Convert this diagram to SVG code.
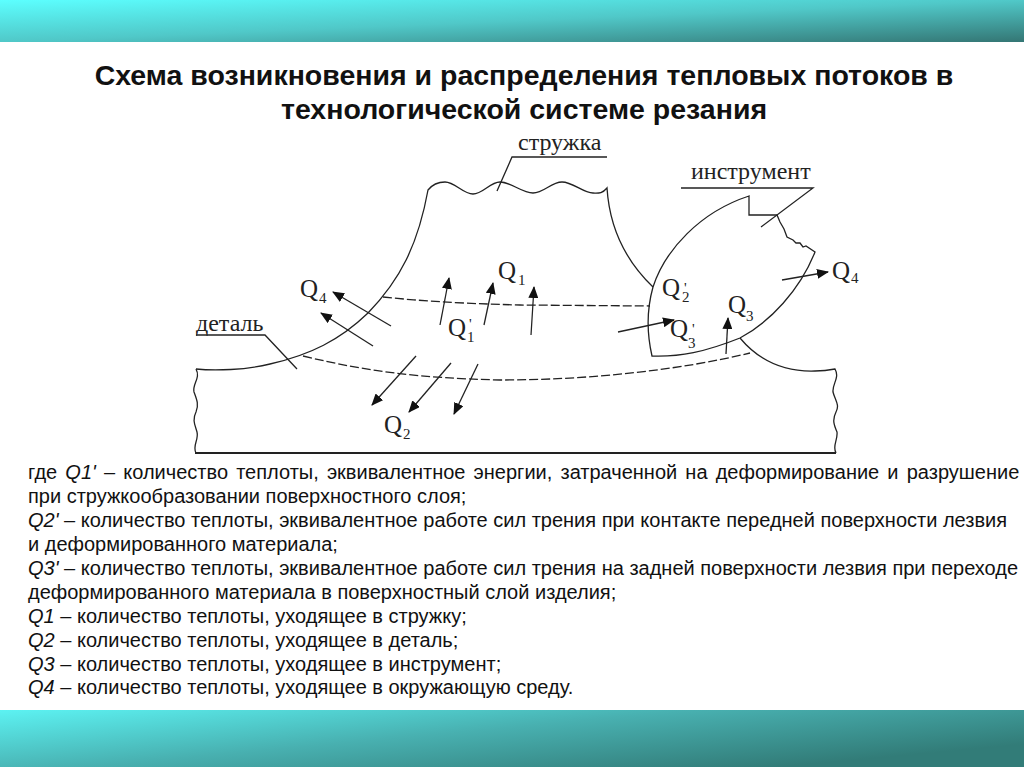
<svg xmlns="http://www.w3.org/2000/svg" width="1024" height="767" viewBox="0 0 1024 767">
<style>
.t{font-family:"Liberation Sans",Arial,sans-serif;font-size:28.5px;font-weight:bold;fill:#111;text-anchor:middle}
.b{font-family:"Liberation Sans",Arial,sans-serif;font-size:20px;fill:#111}
.b tspan.i{font-style:italic}
.l{font-family:"Liberation Serif","Times New Roman",serif;font-size:24px;fill:#222}
.q{font-family:"Liberation Serif","Times New Roman",serif;font-size:25px;fill:#222}
.s{font-family:"Liberation Serif","Times New Roman",serif;font-size:15px;fill:#222}
.o{fill:none;stroke:#222;stroke-width:1.3}
.d{fill:none;stroke:#222;stroke-width:1.3;stroke-dasharray:9 3}
.a{fill:none;stroke:#222;stroke-width:1.3;marker-end:url(#h)}
</style>
<defs>
<linearGradient id="g1" x1="0" y1="0" x2="1" y2="1"><stop offset="0" stop-color="#5cffff"/><stop offset="0.5" stop-color="#50c8c8"/><stop offset="1" stop-color="#347674"/></linearGradient>
<linearGradient id="g2" x1="0" y1="0" x2="1" y2="0.6"><stop offset="0" stop-color="#5cf2f2"/><stop offset="0.5" stop-color="#48b0b0"/><stop offset="1" stop-color="#327c78"/></linearGradient>
<marker id="h" viewBox="0 0 12 10" refX="11" refY="5" markerWidth="12" markerHeight="10" markerUnits="userSpaceOnUse" orient="auto"><path d="M0 0L12 5L0 10Z" fill="#111"/></marker>
</defs>
<rect width="1024" height="767" fill="#fff"/>
<rect id="band-top" width="1024" height="42" fill="url(#g1)"/>
<rect id="band-bottom" y="710" width="1024" height="57" fill="url(#g2)"/>
<g id="title">
<text class="t" x="524" y="85">Схема возникновения и распределения тепловых потоков в</text>
<text class="t" x="524" y="119">технологической системе резания</text>
</g>
<g id="chip">
<path class="o" d="M653 287C630 265 610 235 607 188C602 194 598 193 593 193C583 193 573 182 562 182C551 182 544 193 533 193C522 193 511 182 500 182C490 182 483 194 473 194C463 194 455 182 445 182C438 182 432 185 428 190C418 245 400 280 368 313C340 340 310 355 270 364C245 370 215 371 196 369"/>
</g>
<g id="workpiece">
<path class="o" d="M196 369C201 378 192 384 194 392C197 400 199 405 196 412C192 420 195 425 197 432C199 440 192 446 196 453"/>
<path class="o" d="M740 338C760 362 785 372 815 371C822 371 830 370 835 369C840 378 832 384 833 392C835 400 840 405 836 412C832 420 834 425 837 432C838 440 832 446 836 453"/>
<path d="M195 453H836" fill="none" stroke="#222" stroke-width="2"/>
</g>
<g id="tool">
<path class="o" d="M749 196C700 212 665 250 653 287C648 305 646 330 652 356C680 357 705 352 740 338C770 322 800 290 815 252L806 246L803 247L800 243L796 243L793 240L787 237L784 229L780 222L777 215H749Z"/>
</g>
<g id="connectors">
<path class="d" d="M383 297C430 302 480 304 520 305L650 306"/>
<path class="d" d="M303 356C370 372 420 378 500 380C590 380 680 370 750 353"/>
<path class="o" d="M196 335H265L297 369"/>
<path class="o" d="M607 157H512L497 191"/>
<path class="o" d="M681 188H813L761 227"/>
<path class="a" d="M391 326L333 292"/>
<path class="a" d="M373 346L321 313"/>
<path class="a" d="M440 325L449 278"/>
<path class="a" d="M484 325L493 283"/>
<path class="a" d="M531 335L534 287"/>
<path class="a" d="M416 356L372 405"/>
<path class="a" d="M451 363L409 412"/>
<path class="a" d="M478 364L454 414"/>
<path class="a" d="M618 332L674 320"/>
<path class="a" d="M782 280L828 272"/>
<path class="a" d="M726 354L728 318"/>
</g>
<g id="labels">
<text class="l" x="518" y="150">стружка</text>
<text class="l" x="691" y="179">инструмент</text>
<text class="l" x="196" y="331">деталь</text>
<text class="q" x="300" y="297">Q</text><text class="s" x="319" y="303">4</text>
<text class="q" x="498" y="279">Q</text><text class="s" x="518" y="285">1</text>
<text class="q" x="448" y="336">Q</text><text class="s" x="469" y="329">'</text><text class="s" x="467" y="342">1</text>
<text class="q" x="384" y="433">Q</text><text class="s" x="403" y="439">2</text>
<text class="q" x="662" y="296">Q</text><text class="s" x="684" y="293">'</text><text class="s" x="682" y="302">2</text>
<text class="q" x="670" y="337">Q</text><text class="s" x="692" y="334">'</text><text class="s" x="688" y="348">3</text>
<text class="q" x="728" y="313">Q</text><text class="s" x="746" y="321">3</text>
<text class="q" x="832" y="279">Q</text><text class="s" x="851" y="283">4</text>
</g>
<g id="legend">
<text class="b" x="28" y="479" word-spacing="2.6">где <tspan class="i">Q1'</tspan> – количество теплоты, эквивалентное энергии, затраченной на деформирование и разрушение</text>
<text class="b" x="28" y="503">при стружкообразовании поверхностного слоя;</text>
<text class="b" x="28" y="527"><tspan class="i">Q2'</tspan> – количество теплоты, эквивалентное работе сил трения при контакте передней поверхности лезвия</text>
<text class="b" x="28" y="551">и деформированного материала;</text>
<text class="b" x="28" y="575"><tspan class="i">Q3'</tspan> – количество теплоты, эквивалентное работе сил трения на задней поверхности лезвия при переходе</text>
<text class="b" x="28" y="599">деформированного материала в поверхностный слой изделия;</text>
<text class="b" x="28" y="623"><tspan class="i">Q1</tspan> – количество теплоты, уходящее в стружку;</text>
<text class="b" x="28" y="647"><tspan class="i">Q2</tspan> – количество теплоты, уходящее в деталь;</text>
<text class="b" x="28" y="671"><tspan class="i">Q3</tspan> – количество теплоты, уходящее в инструмент;</text>
<text class="b" x="28" y="694"><tspan class="i">Q4</tspan> – количество теплоты, уходящее в окружающую среду.</text>
</g>
</svg>
